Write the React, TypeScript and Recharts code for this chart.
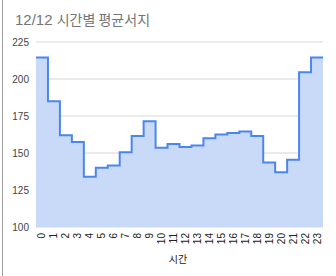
import React from 'react';
import { AreaChart, Area, XAxis, YAxis, CartesianGrid } from 'recharts';

const titleDate = '12/12';
const titleText = '시간별 평균서지';
const xAxisTitle = '시간';
const hours = ['0','1','2','3','4','5','6','7','8','9','10','11','12','13','14','15','16','17','18','19','20','21','22','23'];
const surge = [214.5, 185, 162, 157.5, 134, 140, 141.5, 150.5, 161.5, 171.5, 153.5, 156, 154, 155, 160, 162.5, 163.5, 164.5, 161.5, 143.5, 137, 145.5, 204.5, 214.5];
const yTicks = [100, 125, 150, 175, 200, 225];

const data = surge.map((v, i) => ({ x: i, v }));
data.push({ x: surge.length, v: surge[surge.length - 1] });
const xTicks = hours.map((_, i) => i + 0.5);

const XTick = (props: any) => {
  const { x, y, payload } = props;
  const label = hours[Math.floor(payload.value)];
  const ty = y - 2;
  return (
    <text
      x={x}
      y={ty}
      dy="0.35em"
      textAnchor="end"
      transform={`rotate(-90, ${x}, ${ty})`}
      fontSize={10}
      fill="#222"
      fontFamily="'Liberation Sans', Arial, sans-serif"
    >
      {label}
    </text>
  );
};

export default function App() {
  return (
    <div style={{ position: 'absolute', left: 0, top: 0, width: 336, height: 276, background: '#fff' }}>
      <div style={{ position: 'absolute', left: 2, top: 0, width: 1, height: 276, background: '#9e9e9e' }} />
      <div
        style={{
          position: 'absolute',
          left: 15,
          top: 10,
          fontSize: 15,
          lineHeight: '18px',
          color: '#757575',
          fontFamily: "'Liberation Sans', Arial, 'Noto Sans CJK KR', sans-serif",
          whiteSpace: 'nowrap',
        }}
      >
        {titleDate} <span style={{ fontSize: 14, fontFamily: "'Noto Sans CJK KR', sans-serif" }}>{titleText}</span>
      </div>
      <div
        style={{
          position: 'absolute',
          left: 158,
          width: 40,
          top: 254,
          textAlign: 'center',
          fontSize: 10,
          lineHeight: '12px',
          color: '#222',
          fontFamily: "'Liberation Sans', Arial, 'Noto Sans CJK KR', sans-serif",
        }}
      >
        {xAxisTitle}
      </div>
      <AreaChart width={336} height={276} data={data} margin={{ top: 42, right: 13, left: 0, bottom: 0 }}>
        <CartesianGrid vertical={false} stroke="#d6d6d6" />
        <XAxis
          dataKey="x"
          type="number"
          domain={[0, 24]}
          ticks={xTicks}
          interval={0}
          axisLine={false}
          tickLine={false}
          height={49}
          tick={<XTick />}
        />
        <YAxis
          type="number"
          domain={[100, 225]}
          ticks={yTicks}
          allowDataOverflow
          axisLine={false}
          tickLine={false}
          tickSize={5}
          tickMargin={2}
          width={36}
          tick={{ fontSize: 10, fill: '#444', fontFamily: "'Liberation Sans', Arial, sans-serif" }}
        />
        <Area
          type="stepAfter"
          dataKey="v"
          stroke="#4a86f0"
          strokeWidth={2}
          fill="#c9daf8"
          fillOpacity={1}
          isAnimationActive={false}
          dot={false}
          activeDot={false}
        />
      </AreaChart>
    </div>
  );
}
